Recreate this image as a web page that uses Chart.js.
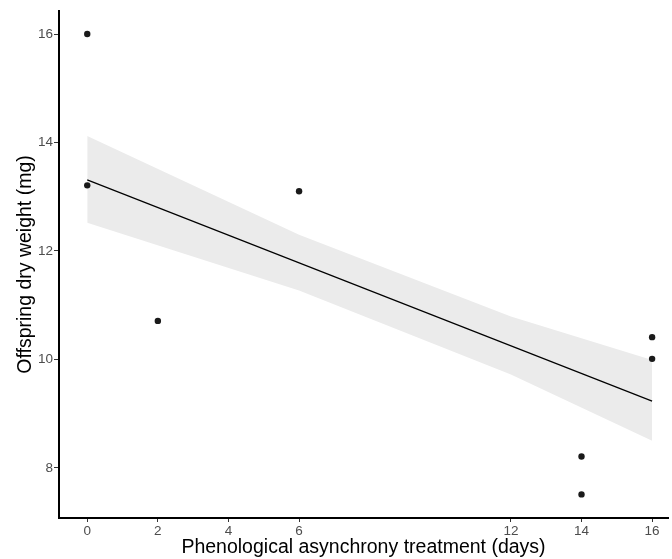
<!DOCTYPE html>
<html>
<head>
<meta charset="utf-8">
<script src="https://cdn.jsdelivr.net/npm/chart.js@4"></script>
<style>
  html, body { margin: 0; padding: 0; background: #fff; }
  #wrap { width: 672px; height: 559px; }
</style>
</head>
<body>
<div id="wrap"><canvas id="myChart" width="672" height="559"></canvas></div>
<script>
// observed offspring weights
var xObs = [0, 0, 2, 6, 14, 14, 16, 16];
var yObs = [16.0, 13.21, 10.71, 13.1, 8.21, 7.51, 10.41, 10.01];

// fitted line
var fitX = [0, 16];
var fitY = [13.31, 9.23];

// confidence band
var bandX = [0, 6, 12, 16];
var bandLow = [12.52, 11.27, 9.72, 8.50];
var bandHigh = [14.12, 12.30, 10.79, 9.99];

// tick labels
var xTicks = [0, 2, 4, 6, 12, 14, 16];
var yTicks = [8, 10, 12, 14, 16];

function pts(xs, ys) {
  var out = [];
  for (var i = 0; i < xs.length; i++) out.push({x: xs[i], y: ys[i]});
  return out;
}

var font = "'Liberation Sans', Arial, sans-serif";

const ctx = document.getElementById("myChart");
var myChart = new Chart(ctx, {
  type: 'scatter',
  data: {
    datasets: [
      {
        data: pts(xObs, yObs),
        backgroundColor: '#1a1a1a',
        borderColor: '#1a1a1a',
        pointRadius: 3.2,
        borderWidth: 0,
        order: 0
      },
      {
        data: pts(fitX, fitY),
        showLine: true,
        borderColor: '#000',
        borderWidth: 1.2,
        pointRadius: 0,
        fill: false,
        order: 1
      },
      {
        data: pts(bandX, bandLow),
        showLine: true,
        borderWidth: 0,
        borderColor: 'rgba(0,0,0,0)',
        pointRadius: 0,
        fill: false,
        order: 2
      },
      {
        data: pts(bandX, bandHigh),
        showLine: true,
        borderWidth: 0,
        borderColor: 'rgba(0,0,0,0)',
        backgroundColor: '#ebebeb',
        pointRadius: 0,
        fill: 2,
        order: 2
      }
    ]
  },
  options: {
    responsive: false,
    animation: false,
    layout: { padding: { top: 11, right: 0, bottom: 0, left: 0 } },
    plugins: {
      legend: { display: false },
      tooltip: { enabled: false }
    },
    scales: {
      x: {
        type: 'linear',
        min: -0.8,
        max: 16.45,
        afterBuildTicks: function(scale) {
          scale.ticks = xTicks.map(function(v) { return {value: v}; });
        },
        afterFit: function(scale) { scale.height = 41; },
        grid: { drawOnChartArea: false, drawTicks: true, tickLength: 4, color: '#333', tickWidth: 1 },
        border: { display: true, color: '#000', width: 2 },
        ticks: { color: '#4d4d4d', padding: 1, font: { family: font, size: 13.5 } },
        title: {
          display: true,
          text: 'Phenological asynchrony treatment (days)',
          color: '#000',
          padding: { top: 0, bottom: 0 },
          font: { family: font, size: 19.5 }
        }
      },
      y: {
        type: 'linear',
        min: 7.075,
        max: 16.425,
        afterBuildTicks: function(scale) {
          scale.ticks = yTicks.map(function(v) { return {value: v}; });
        },
        afterFit: function(scale) { scale.width = 59; },
        grid: { drawOnChartArea: false, drawTicks: true, tickLength: 5, color: '#333', tickWidth: 1 },
        border: { display: true, color: '#000', width: 2 },
        ticks: { color: '#4d4d4d', padding: 1, font: { family: font, size: 13.5 } },
        title: {
          display: true,
          text: 'Offspring dry weight (mg)',
          color: '#000',
          padding: { top: 14, bottom: 0 },
          font: { family: font, size: 19.5 }
        }
      }
    }
  }
});
</script>
</body>
</html>
